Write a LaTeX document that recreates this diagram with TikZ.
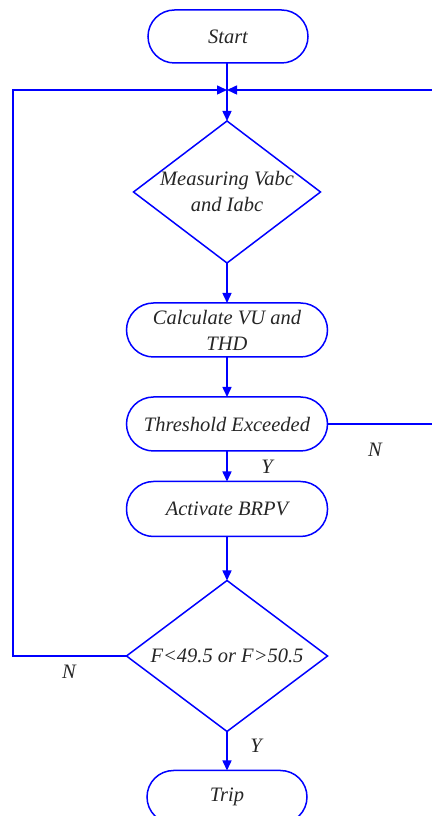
\documentclass[tikz,border=0pt]{standalone}
\usepackage{fontspec}
\setmainfont{Liberation Serif}
\usetikzlibrary{shapes.geometric,arrows.meta}
\definecolor{fcblue}{RGB}{0,0,255}
\begin{document}
\begin{tikzpicture}[x=1pt,y=1pt,
  every node/.style={font=\fontsize{20.5}{26}\selectfont\rmfamily\itshape, text=black!85},
  term/.style={draw=fcblue, line width=1.5pt, rounded corners=26.5pt, minimum width=160pt, minimum height=53pt, inner sep=0, outer sep=0},
  proc/.style={draw=fcblue, line width=1.5pt, rounded corners=27pt, minimum width=201pt, minimum height=54pt, inner sep=0, outer sep=0, align=center},
  dec/.style={draw=fcblue, line width=1.5pt, shape=diamond, inner sep=0, outer sep=0},
  conn/.style={draw=fcblue, line width=1.5pt, -{Triangle[length=10pt,width=9pt]}},
  line/.style={draw=fcblue, line width=1.5pt}]
\useasboundingbox (0,0) rectangle (431,816);
\node[term] (start) at (228,779.5) {Start};
\coordinate (J) at (227,726);
\node[dec, minimum width=187pt, minimum height=142pt] (d1) at (227,624) {};
\node[align=center] (d1t) at (d1.center) {Measuring Vabc\\and Iabc};
\node[proc] (calc) at (227,486) {Calculate VU and\\THD};
\node[proc] (thr) at (227,392) {Threshold Exceeded};
\node[proc, minimum height=55pt] (act) at (227,307) {Activate BRPV};
\node[dec, minimum width=201pt, minimum height=151pt] (d2) at (227,160) {};
\node (d2t) at (d2.center) {F<49.5 or F>50.5};
\node[term] (trip) at (227,19) {Trip};
\coordinate (L) at (13,726);
\coordinate (R) at (433,726);
\draw[line] (start.south -| J) -- (J);
\draw[conn] (J) -- (d1.north);
\draw[conn] (d1.south) -- (calc.north);
\draw[conn] (calc.south) -- (thr.north);
\draw[conn] (thr.south) -- (act.north);
\draw[conn] (act.south) -- (d2.north);
\draw[conn] (d2.south) -- (trip.north);
\draw[conn] (d2.west) -- (d2.west -| L) -- (L) -- (J);
\draw[conn] (thr.east) -- (thr.east -| R) -- (R) -- (J);
\node (y1) at (267,349) {Y};
\node (n1) at (375,366) {N};
\node (n2) at (69,144) {N};
\node (y2) at (256,70) {Y};
\end{tikzpicture}
\end{document}
